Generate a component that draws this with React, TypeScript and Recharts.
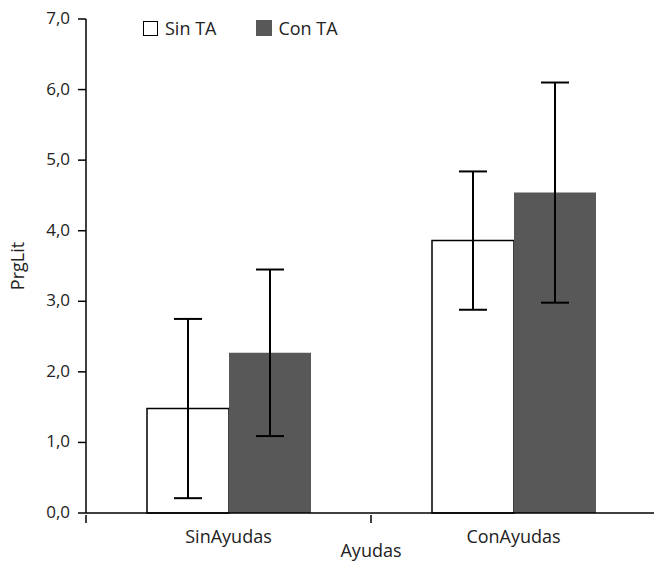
import React from 'react';
import { ComposedChart, Bar, XAxis, YAxis, ErrorBar, Legend } from 'recharts';

const categories = ['SinAyudas', 'ConAyudas'];
const sinTA = [1.48, 3.86];
const sinTAErr = [1.27, 0.98];
const conTA = [2.27, 4.54];
const conTAErr = [1.18, 1.56];
const yTicks = [0, 1, 2, 3, 4, 5, 6, 7];

const data = categories.map((c, i) => ({
    name: c,
    sin: sinTA[i],
    sinErr: sinTAErr[i],
    con: conTA[i],
    conErr: conTAErr[i],
}));

const FONT = '"Open Sans", sans-serif';
const GRAY = '#585858';
const BAND = 285;

const CategoryTick = (props: any) => {
    const { x, y, payload, index } = props;
    return (
        <g>
            <line x1={x - BAND / 2} y1={y - 8} x2={x - BAND / 2} y2={y} stroke="#000" strokeWidth={1.5} />
            {index === categories.length - 1 && (
                <line x1={x + BAND / 2} y1={y - 8} x2={x + BAND / 2} y2={y} stroke="#000" strokeWidth={1.5} />
            )}
            <text x={x} y={y + 20} textAnchor="middle" fontSize={18} fill="#222" fontFamily={FONT}>
                {payload.value}
            </text>
        </g>
    );
};

const YTick = (props: any) => {
    const { x, y, payload } = props;
    return (
        <text x={x} y={y} dy={5} textAnchor="end" fontSize={17} fill="#222" fontFamily={FONT}>
            {payload.value.toFixed(1).replace('.', ',')}
        </text>
    );
};

const CustomLegend = () => (
    <div style={{ display: 'flex', gap: 40, fontFamily: FONT, fontSize: 18, color: '#222', whiteSpace: 'nowrap' }}>
        <div style={{ display: 'flex', alignItems: 'center', gap: 7 }}>
            <span style={{ width: 13, height: 13, border: '1.5px solid #000', background: '#fff' }}></span>
            <span>Sin TA</span>
        </div>
        <div style={{ display: 'flex', alignItems: 'center', gap: 6 }}>
            <span style={{ width: 16, height: 16, background: GRAY }}></span>
            <span>Con TA</span>
        </div>
    </div>
);

const App: React.FC = () => {
    return (
        <div style={{ position: 'absolute', left: 0, top: 0, width: 654, height: 561, overflow: 'hidden', background: '#fff' }}>
            <ComposedChart
                width={656}
                height={561}
                data={data}
                margin={{ top: 19, right: 0, left: 0, bottom: 0 }}
                barGap={0}
            >
                <XAxis
                    dataKey="name"
                    height={48}
                    axisLine={{ stroke: '#000', strokeWidth: 1.5 }}
                    tickLine={false}
                    tickSize={8}
                    tick={<CategoryTick />}
                    interval={0}
                    label={{ value: 'Ayudas', position: 'insideBottom', offset: 4, fontSize: 18, fill: '#222', fontFamily: FONT }}
                />
                <YAxis
                    width={86}
                    domain={[0, 7]}
                    ticks={yTicks}
                    axisLine={{ stroke: '#000', strokeWidth: 1.5 }}
                    tickLine={{ stroke: '#000', strokeWidth: 1.5 }}
                    tickSize={8}
                    tickMargin={8}
                    tick={<YTick />}
                    label={{ value: 'PrgLit', angle: -90, position: 'insideLeft', offset: 18, fontSize: 18, fill: '#222', fontFamily: FONT, style: { textAnchor: 'middle' } }}
                />
                <Legend
                    verticalAlign="middle"
                    align="center"
                    layout="horizontal"
                    content={<CustomLegend />}
                    wrapperStyle={{ top: 16, left: 143, width: 300 }}
                />
                <Bar dataKey="sin" name="Sin TA" fill="#fff" stroke="#000" strokeWidth={1.5} barSize={82} isAnimationActive={false}>
                    <ErrorBar dataKey="sinErr" width={14} stroke="#000" strokeWidth={2} />
                </Bar>
                <Bar dataKey="con" name="Con TA" fill={GRAY} barSize={82} isAnimationActive={false}>
                    <ErrorBar dataKey="conErr" width={14} stroke="#000" strokeWidth={2} />
                </Bar>
            </ComposedChart>
        </div>
    );
};

export default App;
